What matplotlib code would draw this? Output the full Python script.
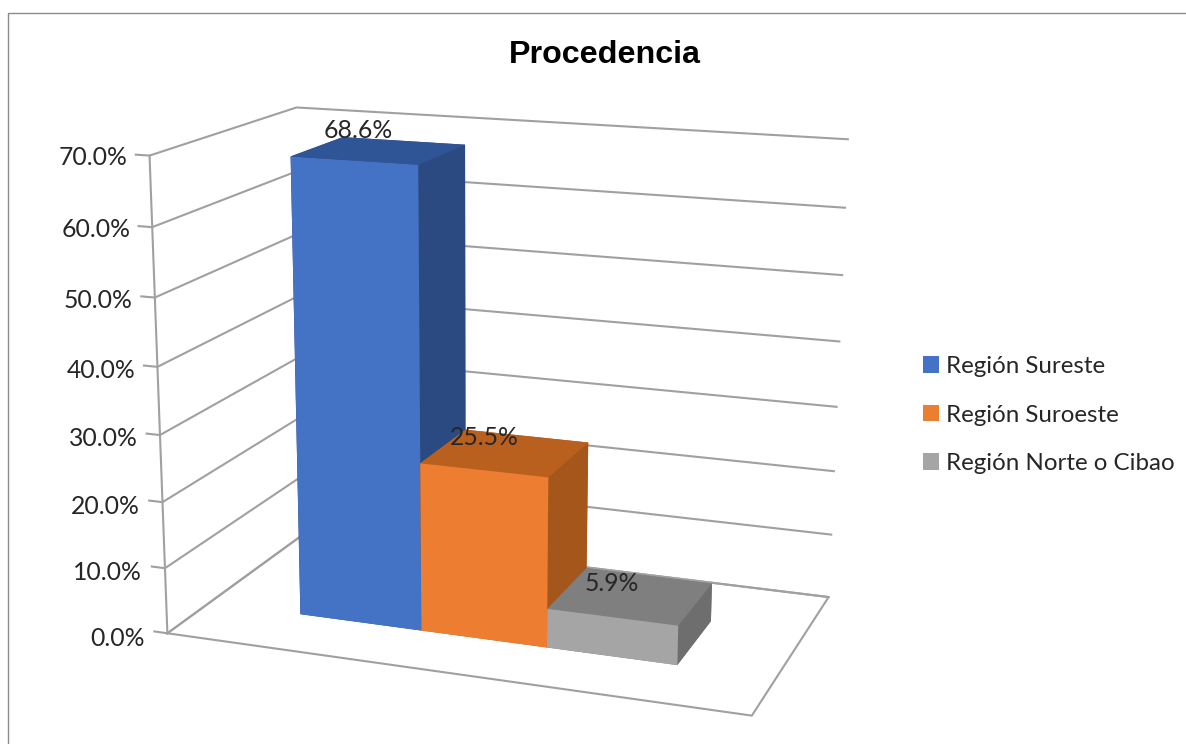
import matplotlib
matplotlib.use('Agg')
import matplotlib.pyplot as plt
from matplotlib.patches import Patch, Rectangle
from mpl_toolkits.mplot3d import proj3d

# Data
regions = ['Región Sureste', 'Región Suroeste', 'Región Norte o Cibao']
values = [68.6, 25.5, 5.9]
value_labels = ['68.6%', '25.5%', '5.9%']
z_ticks = [0, 10, 20, 30, 40, 50, 60, 70]
z_labels = ['0.0%', '10.0%', '20.0%', '30.0%', '40.0%', '50.0%', '60.0%', '70.0%']

# front, top, side colours of each bar
front_colors = ['#4472C4', '#ED7D31', '#A5A5A5']
top_colors = ['#2F5597', '#B9601F', '#7F7F7F']
side_colors = ['#2C4A82', '#A5571B', '#6E6E6E']
grid_color = '#A0A0A0'
text_color = '#262626'

W, H = 1186, 744
fig = plt.figure(figsize=(W / 100, H / 100), dpi=100)

# outer chart border
fig.add_artist(Rectangle((7.5 / W, -0.01), 1.1, (H - 12.5) / H + 0.01, transform=fig.transFigure,
                         fill=False, edgecolor='#8C8C8C', linewidth=1.0))

# camera fitted against the reference
ax = fig.add_axes([86.8 / W, -62.66 / H, 816.5 / W, 816.5 / H], projection='3d')
ax.view_init(elev=15.2344, azim=-70.2949, roll=-0.1855)
ax.set_proj_type('persp', focal_length=0.5288)
ax.set_box_aspect((1.2429, 0.6873, 1))
x_min, x_max = -0.7687, 3.7317
ax.set_xlim(x_min, x_max, view_margin=0)
ax.set_ylim(0, 1, view_margin=0)
ax.set_zlim(0, 70, view_margin=0)
ax.set_axis_off()
ax.patch.set_alpha(0)
ax.computed_zorder = False


def label_at(x, y, z, text, dx, dy, **kw):
    # 3D anchor projected to the 2D axes, text offset in pixels
    u, v, _ = proj3d.proj_transform(x, y, z, ax.get_proj())
    ax.annotate(text, xy=(u, v), xycoords='data', xytext=(dx * 0.72, dy * 0.72),
                textcoords='offset points', va='center', fontsize=17.8, family='Lato',
                color=text_color, zorder=6, annotation_clip=False, **kw)


# floor, walls and gridlines
lw = 1.5
ax.plot([x_min, x_max, x_max, x_min, x_min], [0, 0, 1, 1, 0], [0, 0, 0, 0, 0],
        color=grid_color, lw=lw, zorder=1)
ax.plot([x_min, x_min], [0, 0], [0, 70], color=grid_color, lw=lw, zorder=1)
tick_len = 0.11
for z, label in zip(z_ticks, z_labels):
    ax.plot([x_min - tick_len, x_min, x_min, x_max], [0, 0, 1, 1], [z, z, z, z],
            color=grid_color, lw=lw, zorder=1)
    label_at(x_min - tick_len, 0, z, label, -8 - 2 * (1 - z / 70), -3 - 4 * (1 - z / 70), ha='right')

# bars, back to front
y0, y1 = 0.286, 0.6658
for i, v in enumerate(values):
    ax.bar3d(i, y0, 0, 1, y1 - y0, v, shade=False, linewidth=0,
             color=[top_colors[i], top_colors[i], front_colors[i], top_colors[i],
                    side_colors[i], side_colors[i]], zorder=2 + i)

label_dx = [-21, -21, -19]
label_dy = [20, 15, 12]
for i, v in enumerate(values):
    label_at(i + 0.5, (y0 + y1) / 2, v, value_labels[i], label_dx[i], label_dy[i], ha='center')

fig.text(605 / W, 1 - 55 / H, 'Procedencia', ha='center', va='center', fontsize=23.2,
         fontweight='bold', family='Liberation Sans', color='black')

handles = [Patch(facecolor=c, edgecolor='none') for c in front_colors]
fig.legend(handles, regions, loc='center left', bbox_to_anchor=(923 / W, 1 - 415 / H),
           frameon=False, prop={'family': 'Lato', 'size': 17.4}, handlelength=0.66, handleheight=0.66,
           handletextpad=0.3, labelspacing=1.14, borderpad=0, borderaxespad=0, labelcolor=text_color)

fig.savefig('out.png', dpi=100)
